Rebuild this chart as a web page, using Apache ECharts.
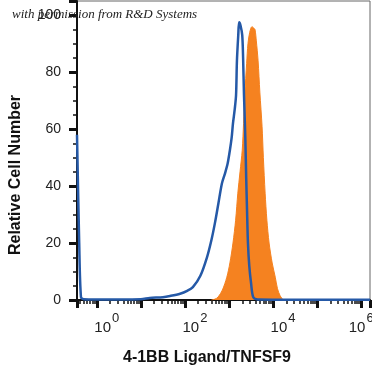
<!DOCTYPE html>
<html>
<head>
<meta charset="utf-8">
<script src="https://cdn.jsdelivr.net/npm/echarts@6/dist/echarts.min.js"></script>
<style>html,body{margin:0;padding:0;background:#fff}#c{width:372px;height:373px}</style>
</head>
<body>
<div id="c"></div>
<script>
// Log10 of fluorescence intensity and relative cell number
const blueLogX = [-0.45,-0.40,-0.36,-0.30,0.0,0.5,1.0,1.2,1.5,1.66,1.89,2.05,2.18,2.35,2.5,2.6,2.68,2.76,2.84,2.91,2.97,3.02,3.06,3.09,3.13,3.16,3.18,3.21,3.23,3.26,3.30,3.32,3.34,3.37,3.39,3.41,3.43,3.46,3.50,3.55,3.65,4.5,6.2];
const blueY    = [58,20,1,0.3,0.2,0.2,0.3,0.7,1.0,1.4,2.2,3.2,4.5,8.5,15,21,27,34,41,44.5,48,52.6,57,62,67,72,84,93,97.5,96.5,93,85,72,57,43,31,20,12,6,1,0.2,0.1,0.1];
const orangeLogX = [2.60,2.68,2.75,2.85,2.95,3.02,3.09,3.15,3.20,3.25,3.30,3.33,3.36,3.40,3.43,3.47,3.52,3.56,3.59,3.62,3.66,3.70,3.75,3.78,3.82,3.86,3.91,3.98,4.05,4.10,4.16,4.23];
const orangeY    = [0,0.3,1,3.5,8,13,20,28,37.5,45,52.6,62,72.6,83,90,94,96,95.5,95,91,84,73,61,50,37.5,28,20,13,8,4,1.5,0];
const xLabelExps = [0,2,4,6];
const yTicks = [0,20,40,60,80,100];
const xTitle = '4-1BB Ligand/TNFSF9';
const yTitle = 'Relative Cell Number';
const note = 'with permission from R&D Systems';

const toPairs = (lx, ys) => lx.map((l, i) => [Math.pow(10, l), ys[i]]);

const chart = echarts.init(document.getElementById('c'), null, {renderer: 'canvas'});
chart.setOption({
  animation: false,
  backgroundColor: '#fff',
  grid: {left: 77, right: 2, top: 1, bottom: 73, show: true, borderColor: '#666', borderWidth: 1,
         containLabel: false, outerBoundsMode: 'none'},
  xAxis: {
    type: 'log', logBase: 10,
    min: Math.pow(10, -0.45), max: Math.pow(10, 6.2),
    axisLine: {show: true, lineStyle: {color: '#111', width: 2}},
    axisTick: {show: true, length: 8, lineStyle: {color: '#111', width: 3}},
    minorTick: {show: true, splitNumber: 9, length: 4, lineStyle: {color: '#111', width: 1.5}},
    splitLine: {show: false},
    axisLabel: {
      align: 'center', margin: 8, color: '#222', hideOverlap: false,
      formatter: function (v) {
        const e = Math.round(Math.log10(v));
        if (Math.abs(Math.log10(v) - e) > 1e-6) return '';
        if (xLabelExps.indexOf(e) < 0) return '';
        return (e === 6 ? '{c|10}' : '{b|10}') + '{s|' + e + '}';
      },
      rich: {
        b: {fontFamily: 'Liberation Sans', fontSize: 15, color: '#222', padding: [12, 0, 0, 20]},
        c: {fontFamily: 'Liberation Sans', fontSize: 15, color: '#222', padding: [12, 0, 0, 0]},
        s: {fontFamily: 'Liberation Sans', fontSize: 13, color: '#222', padding: [0, 0, 6, 1]}
      }
    }
  },
  yAxis: {
    type: 'value', min: 0, max: 105, interval: 20,
    axisLine: {show: true, lineStyle: {color: '#111', width: 2}},
    axisTick: {show: true, length: 8, lineStyle: {color: '#111', width: 3}},
    minorTick: {show: true, splitNumber: 4, length: 4, lineStyle: {color: '#111', width: 1.5}},
    splitLine: {show: false},
    axisLabel: {
      margin: 16, color: '#222', fontFamily: 'Liberation Sans', fontSize: 14,
      formatter: function (v) { return yTicks.indexOf(v) >= 0 ? String(v) : ''; }
    }
  },
  series: [
    {
      type: 'line', data: toPairs(orangeLogX, orangeY), smooth: 0.3, symbol: 'none',
      lineStyle: {color: '#f58220', width: 1}, areaStyle: {color: '#f58220', opacity: 1}, z: 2
    },
    {
      type: 'line', data: toPairs(blueLogX, blueY), smooth: 0.3, symbol: 'none',
      lineStyle: {color: '#2559a7', width: 2.5}, z: 3
    }
  ],
  graphic: [
    {type: 'text', left: 12, top: 8, z: 10, style: {text: note, font: 'italic 13px "Liberation Serif"', fill: '#222'}},
    {type: 'text', x: 207, y: 358, z: 10, style: {text: xTitle, font: 'bold 16px "Liberation Sans"', fill: '#111', align: 'center', verticalAlign: 'middle'}},
    {type: 'text', x: 16, y: 175, rotation: Math.PI / 2, z: 10, style: {text: yTitle, font: 'bold 16px "Liberation Sans"', fill: '#111', align: 'center', verticalAlign: 'middle'}}
  ]
});
</script>
</body>
</html>
